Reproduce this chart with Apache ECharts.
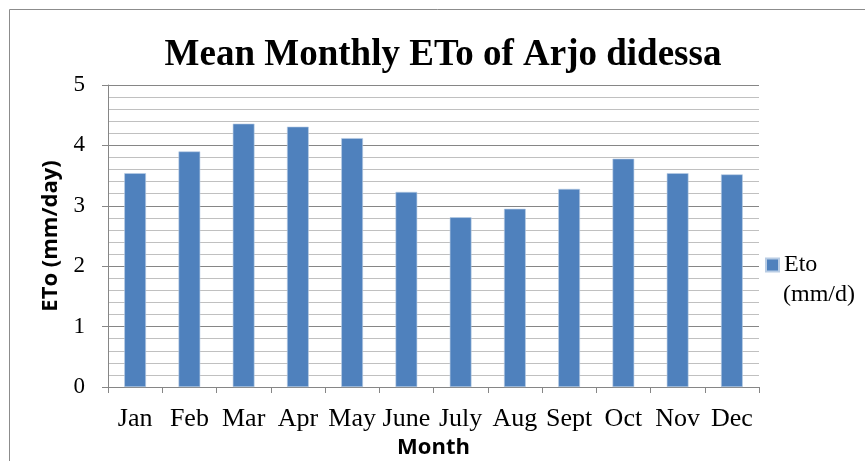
<!DOCTYPE html>
<html><head><meta charset="utf-8">
<script src="https://cdn.jsdelivr.net/npm/echarts@6/dist/echarts.min.js"></script>
<style>html,body{margin:0;padding:0;background:#fff}#c{width:865px;height:461px}</style>
</head><body><div id="c"></div>
<script>
var months = ['Jan','Feb','Mar','Apr','May','June','July','Aug','Sept','Oct','Nov','Dec'];
var eto = [3.54, 3.90, 4.36, 4.31, 4.12, 3.23, 2.81, 2.95, 3.28, 3.78, 3.54, 3.52];
var seriesName = 'Eto';
var seriesUnit = '(mm/d)';

var chart = echarts.init(document.getElementById('c'), null, {renderer:'canvas'});
chart.setOption({
  animation:false,
  backgroundColor:'#fff',
  graphic:[
    {type:'rect', shape:{x:9.5,y:9.5,width:900,height:500}, style:{fill:'none', stroke:'#8c8c8c', lineWidth:1}},
    {type:'text', left:783, top:283, style:{text:seriesUnit, font:'24px "Liberation Serif"', fill:'#000'}}
  ],
  title:{text:'Mean Monthly ETo of Arjo didessa', left:438, top:32, textAlign:'center',
    textStyle:{fontFamily:'Liberation Serif', fontWeight:'bold', fontSize:37, color:'#000'}},
  legend:{orient:'vertical', left:765, top:253, padding:0, itemWidth:13, itemHeight:13, itemGap:4,
    icon:'rect', textStyle:{fontFamily:'Liberation Serif', fontSize:24, color:'#000'},
    data:[seriesName]},
  grid:{left:108, right:106, top:85, bottom:74, outerBoundsMode:'none', containLabel:false},
  xAxis:{type:'category', data:months,
    name:'Month', nameLocation:'middle', nameGap:50,
    nameTextStyle:{fontFamily:'Open Sans', fontWeight:'bold', fontSize:22, color:'#000'},
    axisLine:{lineStyle:{color:'#868686', width:1}},
    axisTick:{show:true, length:6, lineStyle:{color:'#868686'}},
    axisLabel:{fontFamily:'Liberation Serif', fontSize:26, color:'#000', margin:19, interval:0},
    splitLine:{show:false}},
  yAxis:{type:'value', min:0, max:5, interval:1,
    name:'ETo (mm/day)', nameLocation:'middle', nameGap:46,
    nameTextStyle:{fontFamily:'Open Sans', fontWeight:'bold', fontSize:22, color:'#000'},
    axisLine:{show:true, lineStyle:{color:'#868686', width:1}},
    axisTick:{show:true, length:6, lineStyle:{color:'#868686'}},
    axisLabel:{fontFamily:'Liberation Serif', fontSize:23, color:'#000', margin:23},
    splitLine:{show:true, lineStyle:{color:'#868686', width:1.2}},
    minorTick:{show:false, splitNumber:5},
    minorSplitLine:{show:true, lineStyle:{color:'#c0c0c0', width:1.2}}},
  series:[{name:seriesName, type:'bar', data:eto, barWidth:'40%',
    itemStyle:{color:'#4F81BD', borderColor:'#B8CCE4', borderWidth:0.6}}]
});
</script></body></html>
